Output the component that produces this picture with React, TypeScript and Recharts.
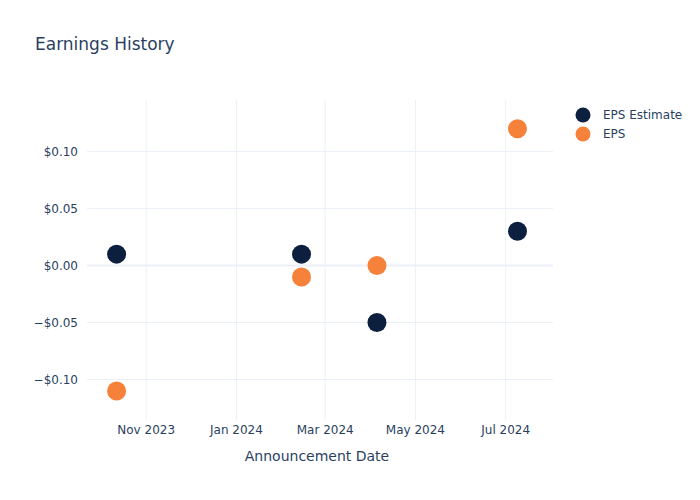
import React from "react";
import {
  ScatterChart,
  Scatter,
  XAxis,
  YAxis,
  ReferenceLine,
  Label,
} from "recharts";

const announcementDates = ["2023-10-12", "2024-02-14", "2024-04-05", "2024-07-09"];
const epsEstimate = [0.01, 0.01, -0.05, 0.03];
const epsActual = [-0.11, -0.01, 0.0, 0.12];
const xTickDates = ["2023-11-01", "2024-01-01", "2024-03-01", "2024-05-01", "2024-07-01"];
const yTicks = [-0.1, -0.05, 0, 0.05, 0.1];
const xDomainDates = ["2023-09-22", "2024-08-02"];
const yDomain = [-0.1355, 0.1452];

const MONTHS = ["Jan", "Feb", "Mar", "Apr", "May", "Jun", "Jul", "Aug", "Sep", "Oct", "Nov", "Dec"];
const ts = (d: string) => Date.parse(d + "T00:00:00Z");

const estimateData = announcementDates.map((d, i) => ({ date: ts(d), value: epsEstimate[i] }));
const actualData = announcementDates.map((d, i) => ({ date: ts(d), value: epsActual[i] }));

const NAVY = "#0c1f3f";
const ORANGE = "#f5813a";
const TEXT = "#2a3f5f";
const GRID = "#ebf0f8";
const FONT = "'DejaVu Sans', sans-serif";

const fmtDate = (v: number) => {
  const d = new Date(v);
  return `${MONTHS[d.getUTCMonth()]} ${d.getUTCFullYear()}`;
};
const fmtMoney = (v: number) => {
  const s = "$" + Math.abs(v).toFixed(2);
  return v < -1e-9 ? "\u2212" + s : s;
};

const dot = (color: string) => (props: any) => (
  <circle cx={props.cx} cy={props.cy} r={9.5} fill={color} />
);

const legendItems = [
  { name: "EPS Estimate", color: NAVY },
  { name: "EPS", color: ORANGE },
];

function LegendBox() {
  return (
    <div
      style={{
        position: "absolute",
        left: 575,
        top: 105,
        fontFamily: FONT,
        fontSize: 12,
        color: TEXT,
      }}
    >
      {legendItems.map((it) => (
        <div key={it.name} style={{ display: "flex", alignItems: "center", height: 19 }}>
          <svg width={16} height={16} style={{ marginRight: 12 }}>
            <circle cx={8} cy={8} r={7.5} fill={it.color} />
          </svg>
          <span>{it.name}</span>
        </div>
      ))}
    </div>
  );
}

export default function App() {
  return (
    <div style={{ position: "absolute", left: 0, top: 0, width: 700, height: 500, background: "#fff" }}>
      <div
        style={{
          position: "absolute",
          left: 35,
          top: 34,
          fontFamily: FONT,
          fontSize: 17,
          color: TEXT,
        }}
      >
        Earnings History
      </div>
      <LegendBox />
      <ScatterChart width={700} height={500} margin={{ top: 100, right: 147, bottom: 0, left: 0 }}>
        <XAxis
          type="number"
          dataKey="date"
          domain={xDomainDates.map(ts)}
          ticks={xTickDates.map(ts)}
          tickFormatter={fmtDate}
          axisLine={false}
          tickLine={false}
          tickSize={0}
          tickMargin={5}
          height={80}
          tick={{ fill: TEXT, fontSize: 12, fontFamily: FONT }}
          allowDataOverflow
        >
          <Label
            content={({ viewBox }: any) => (
              <text
                x={viewBox.x + viewBox.width / 2 - 3}
                y={viewBox.y + 41}
                textAnchor="middle"
                fill={TEXT}
                fontSize={14}
                fontFamily={FONT}
              >
                Announcement Date
              </text>
            )}
          />
        </XAxis>
        <YAxis
          type="number"
          dataKey="value"
          domain={yDomain}
          ticks={yTicks}
          tickFormatter={fmtMoney}
          axisLine={false}
          tickLine={false}
          tickSize={0}
          tickMargin={9}
          width={87}
          tick={{ fill: TEXT, fontSize: 12, fontFamily: FONT }}
          allowDataOverflow
        />
        {xTickDates.map((d) => (
          <ReferenceLine key={d} x={ts(d)} stroke={GRID} strokeWidth={1} />
        ))}
        {yTicks.map((v) => (
          <ReferenceLine key={v} y={v} stroke={GRID} strokeWidth={v === 0 ? 2 : 1} />
        ))}
        <Scatter
          name="EPS Estimate"
          data={estimateData}
          fill={NAVY}
          shape={dot(NAVY)}
          isAnimationActive={false}
        />
        <Scatter
          name="EPS"
          data={actualData}
          fill={ORANGE}
          shape={dot(ORANGE)}
          isAnimationActive={false}
        />
      </ScatterChart>
    </div>
  );
}
